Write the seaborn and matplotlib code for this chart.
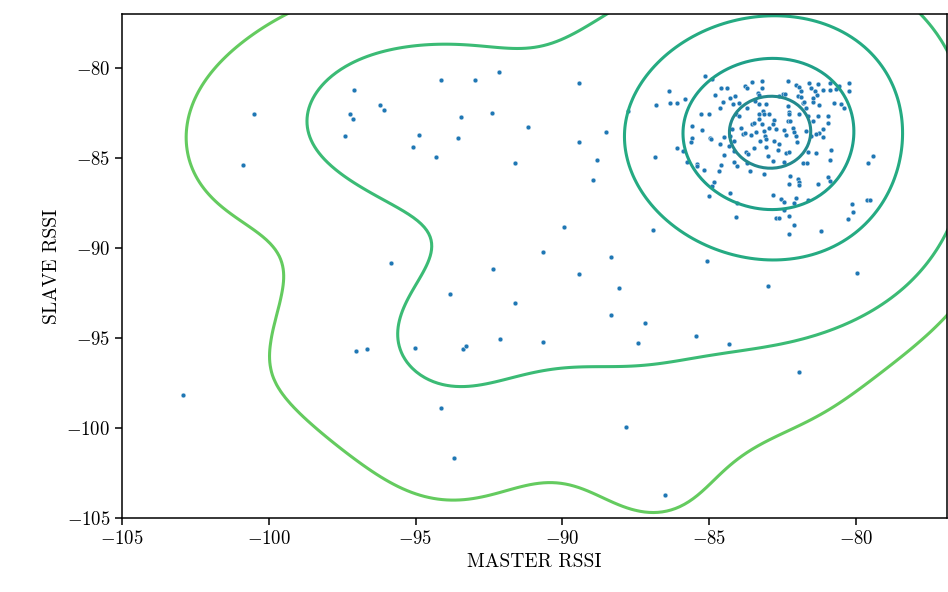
import numpy as np
import pandas as pd
import matplotlib
matplotlib.use("Agg")
import matplotlib.pyplot as plt
import seaborn as sns

# RSSI readings (dBm)
master_rssi = [
    # dense cluster around (-83, -83)
    -85.15, -84.91, -85.82, -84.82, -84.59, -84.40, -84.53, -84.30, -84.11, -83.98,
    -84.19, -85.00, -84.62, -85.29, -83.79, -83.73, -83.55, -83.21, -83.20, -83.33,
    -83.30, -82.33, -82.05, -81.95, -81.88, -81.60, -81.31, -81.54, -81.39, -81.34,
    -81.14, -80.89, -80.69, -80.58, -80.24, -80.24, -80.89, -82.49, -82.41, -82.62,
    -81.99, -81.88, -81.82, -81.77, -81.48, -81.45, -80.52, -80.41, -80.75, -81.26,
    -83.73, -83.45, -83.30, -83.07, -83.18, -83.30, -83.13, -82.96, -82.79, -82.33,
    -82.28, -82.30, -82.33, -82.24, -81.94, -81.71, -81.65, -81.48, -81.28, -80.94,
    -80.95, -81.14, -81.11, -81.26, -84.09, -83.98, -83.53, -83.47, -83.30, -83.21,
    -82.96, -82.84, -82.73, -83.13, -84.23, -83.92, -83.86, -83.77, -83.58, -83.41,
    -85.57, -85.26, -85.60, -85.62, -84.96, -84.94, -84.64, -84.49, -84.30, -84.15,
    -83.09, -83.05, -82.80, -82.62, -82.45, -82.39, -82.16, -82.11, -82.05, -82.02,
    -81.71, -81.54, -81.37, -86.11, -85.91, -85.76, -85.43, -85.43, -85.17, -84.60,
    -84.66, -84.89, -84.83, -85.02, -84.28, -84.05, -84.32, -84.17, -84.15, -84.07,
    -84.51, -83.75, -83.69, -83.73, -83.60, -83.47, -83.28, -83.05, -83.00, -82.84,
    -82.67, -82.39, -82.28, -82.45, -81.82, -81.68, -81.65, -81.37, -80.86, -80.89,
    -83.13, -82.25, -82.28, -81.99, -81.94, -81.94, -81.29, -80.97, -80.88, -82.84,
    -82.56, -82.45, -82.12, -82.03, -81.65, -82.47, -82.73, -82.62, -82.28, -82.11,
    -82.30, -81.21, -80.14, -80.12, -80.27, -79.63, -79.53, -79.59, -79.41, -84.09,
    -85.06,
    # spread-out readings
    -94.15, -92.98, -92.17, -89.42, -93.46, -92.41, -91.18, -94.88, -95.08, -93.57,
    -94.30, -91.61, -89.44, -88.50, -88.83, -88.97, -87.75, -86.82, -86.38, -86.34,
    -86.11, -86.85, -89.93, -90.67, -88.34, -86.93,
    -97.11, -100.49, -100.87, -97.22, -97.12, -96.22, -96.08, -97.39, -95.84,
    -97.02, -96.67, -102.93,
    -92.38, -89.42, -93.84, -91.61, -88.06, -88.33, -87.20, -92.13, -90.66, -87.43,
    -93.40, -93.28, -95.02, -94.15, -93.70, -87.85, -86.50,
    -79.98, -83.00, -85.46, -84.34, -81.95,
]

slave_rssi = [
    -80.46, -80.59, -81.69, -81.48, -81.09, -81.11, -81.89, -81.65, -81.57, -81.93,
    -81.98, -82.56, -82.24, -82.56, -81.00, -81.11, -80.76, -80.69, -81.11, -81.37,
    -81.50, -80.70, -80.94, -81.02, -81.26, -80.80, -80.87, -81.11, -81.26, -81.48,
    -81.20, -80.81, -81.17, -80.98, -80.83, -81.28, -81.24, -81.41, -81.46, -81.54,
    -81.56, -81.59, -81.91, -81.87, -81.87, -81.63, -82.00, -82.24, -81.91, -82.04,
    -82.19, -81.85, -82.00, -82.00, -82.37, -82.56, -82.56, -82.56, -82.89, -82.09,
    -82.41, -82.56, -82.93, -82.93, -82.56, -82.24, -82.65, -82.93, -82.63, -82.65,
    -83.07, -83.39, -83.85, -83.61, -82.56, -82.65, -83.11, -83.02, -82.83, -83.11,
    -83.30, -83.11, -83.39, -83.48, -83.39, -83.30, -83.67, -83.61, -83.70, -83.57,
    -83.24, -83.41, -83.89, -84.13, -83.87, -83.94, -84.19, -83.85, -83.78, -84.04,
    -83.76, -83.91, -84.04, -84.22, -83.46, -83.69, -83.35, -83.56, -83.78, -84.09,
    -83.48, -83.76, -83.67, -84.46, -84.59, -85.20, -85.30, -85.43, -85.67, -85.39,
    -85.70, -86.54, -86.35, -87.09, -86.94, -87.50, -84.31, -84.59, -85.24, -85.46,
    -84.81, -84.65, -84.78, -85.26, -85.70, -84.41, -84.04, -84.37, -84.87, -85.15,
    -84.54, -84.74, -84.65, -85.24, -85.28, -85.28, -84.65, -84.74, -84.54, -85.11,
    -85.89, -85.98, -86.44, -86.17, -86.35, -86.48, -86.44, -86.04, -86.26, -87.06,
    -87.28, -87.46, -87.48, -87.24, -87.32, -87.87, -88.30, -88.33, -88.24, -88.72,
    -89.19, -89.04, -87.54, -87.98, -88.39, -87.32, -87.30, -85.28, -84.87, -88.26,
    -90.74,
    -80.67, -80.63, -80.19, -80.85, -82.74, -82.50, -83.26, -83.74, -84.39, -83.89,
    -84.96, -85.28, -84.13, -83.57, -85.09, -86.19, -82.37, -82.04, -81.28, -81.91,
    -81.96, -84.96, -88.81, -90.22, -90.52, -89.00,
    -81.19, -82.52, -85.39, -82.52, -82.80, -82.02, -82.33, -83.78, -90.80,
    -95.72, -95.59, -98.15,
    -91.17, -91.44, -92.56, -93.07, -92.19, -93.69, -94.17, -95.04, -95.24, -95.30,
    -95.59, -95.43, -95.54, -98.87, -101.67, -99.94, -103.74,
    -91.39, -92.11, -94.89, -95.31, -96.87,
]

df = pd.DataFrame({"master": master_rssi, "slave": slave_rssi})

# kernel widths per axis and contour levels (fraction of peak density)
kernel_bw = [2.3, 3.5]
contour_levels = [0.011, 0.05, 0.27, 0.6, 0.89]
# contour colours, outermost to innermost
contour_colors = ["#64cb5f", "#3bbb75", "#25ab82", "#1fa088", "#238a8d"]


def product_kde(xv, yv, bx, by, cut=3, gridsize=250):
    # axis-aligned gaussian kde (no cross-correlation in the kernel)
    n = len(xv)
    gx = np.linspace(xv.min() - cut * bx, xv.max() + cut * bx, gridsize)
    gy = np.linspace(yv.min() - cut * by, yv.max() + cut * by, gridsize)
    kx = np.exp(-0.5 * ((gx[:, None] - xv[None, :]) / bx) ** 2)
    ky = np.exp(-0.5 * ((gy[:, None] - yv[None, :]) / by) ** 2)
    z = ky @ kx.T / (n * 2 * np.pi * bx * by)
    return gx, gy, z


plt.rcParams["font.family"] = "serif"
plt.rcParams["font.serif"] = ["cmr10"]
plt.rcParams["mathtext.fontset"] = "cm"
plt.rcParams["axes.formatter.use_mathtext"] = True

fig = plt.figure(figsize=(9.48, 5.92), dpi=100)
ax = fig.add_axes([0.1287, 0.125, 0.8703, 0.851])

gx, gy, z = product_kde(df["master"].to_numpy(), df["slave"].to_numpy(), *kernel_bw)
ax.contour(gx, gy, z / z.max(), levels=contour_levels, colors=contour_colors,
           linewidths=2.2)
sns.scatterplot(data=df, x="master", y="slave", s=12, color="#1f77b4",
                linewidth=0.3, edgecolor="white", ax=ax)

ax.set_xlim(-105, -76.9)
ax.set_ylim(-105, -77)
ax.set_xticks([-105, -100, -95, -90, -85, -80])
ax.set_yticks([-105, -100, -95, -90, -85, -80])
ax.tick_params(labelsize=13.5, length=5, width=1.1)
for s in ax.spines.values():
    s.set_linewidth(1.1)
ax.set_xlabel("MASTER RSSI", fontsize=14)
ax.set_ylabel("SLAVE RSSI", fontsize=14)

fig.savefig("out.png", dpi=100)
